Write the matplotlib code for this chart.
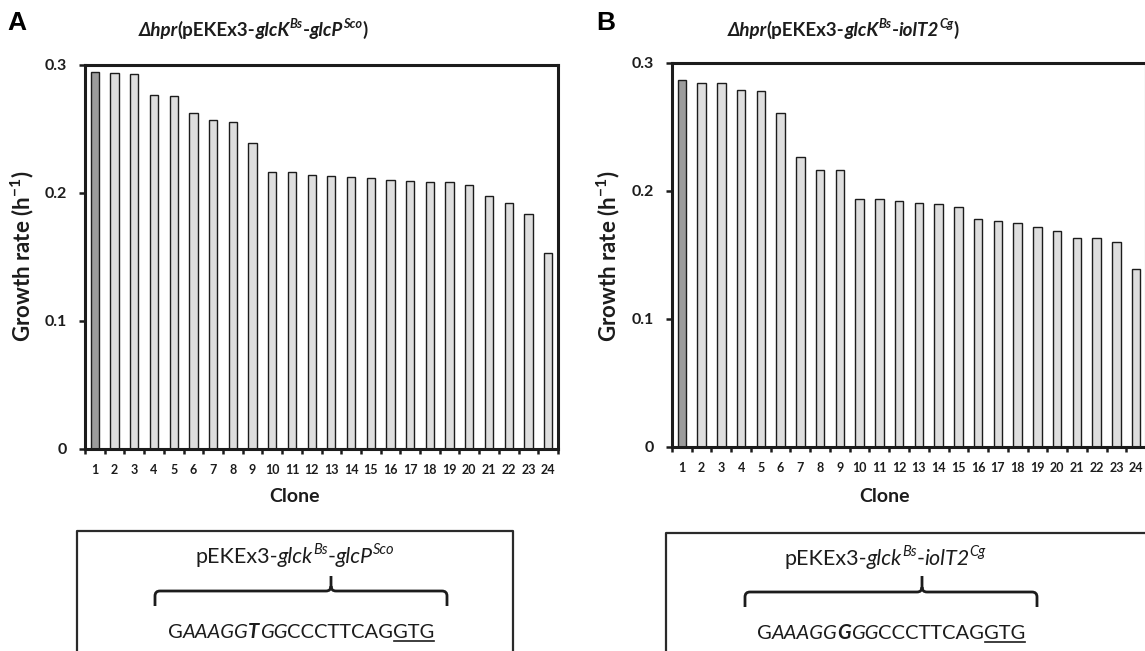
"""
Growth rate of the 24 clones for two plasmid constructs, with the RBS sequence boxes below.
"""

import matplotlib
matplotlib.use('Agg')
import matplotlib.pyplot as plt
import numpy as np
from matplotlib.lines import Line2D
from matplotlib.patches import PathPatch
from matplotlib.path import Path


# Figure size in pixels (dpi 100)
W, H = 1145, 651

# Data
clones = [str(i) for i in range(1, 25)]
rate_glcp = [0.2948, 0.2940, 0.2930, 0.2766, 0.2758, 0.2627, 0.2570, 0.2552,
             0.2388, 0.2162, 0.2162, 0.2143, 0.2133, 0.2123, 0.2115, 0.2104,
             0.2094, 0.2086, 0.2086, 0.2063, 0.1977, 0.1922, 0.1836, 0.1534]
rate_iolt2 = [0.2865, 0.2844, 0.2844, 0.2787, 0.2782, 0.2610, 0.2267, 0.2163,
              0.2163, 0.1934, 0.1934, 0.1919, 0.1906, 0.1898, 0.1877, 0.1783,
              0.1768, 0.1747, 0.1721, 0.1690, 0.1633, 0.1633, 0.1601, 0.1391]
y_ticks = [0, 0.1, 0.2, 0.3]
y_tick_labels = ['0', '0.1', '0.2', '0.3']

FONT = ['Lato', 'DejaVu Sans']
INK = '#1c1c1c'

plt.rcParams['font.family'] = FONT
plt.rcParams['mathtext.default'] = 'regular'

fig = plt.figure(figsize=(W / 100, H / 100), dpi=100)
renderer = fig.canvas.get_renderer()


def fx(px):
    return px / W


def fy(py):
    return 1 - py / H


def text_width(txt, **kw):
    # advance width: measure with a bar after it, then take the bar away
    t = fig.text(0, 0, txt + '|', **kw)
    b = fig.text(0, 0, '|', **kw)
    w = t.get_window_extent(renderer).width - b.get_window_extent(renderer).width
    t.remove()
    b.remove()
    return w


def draw_runs(x, y, runs, size, sup_scale=0.68):
    """Draw styled text pieces one after the other, centred on x, baseline at y (pixels)."""
    items = []
    total = 0
    for txt, style in runs:
        kw = dict(fontsize=size * (sup_scale if 'p' in style else 1),
                  fontweight='bold' if 'b' in style else 'normal',
                  fontstyle='italic' if 'i' in style else 'normal',
                  ha='left', va='baseline', color=INK)
        w = text_width(txt, **kw)
        items.append((txt, kw, w, style))
        total += w
    cur = x - total / 2
    for txt, kw, w, style in items:
        dy = size * 0.42 * 100 / 72 if 'p' in style else 0
        fig.text(fx(cur), fy(y - dy), txt, **kw)
        if 'u' in style:
            fig.add_artist(Line2D([fx(cur + 1), fx(cur + w)], [fy(y + 3)] * 2,
                                  color=INK, linewidth=1.2))
        cur += w


def draw_brace(left, right, peak, top, mid, bottom):
    """Curly bracket opening downwards, in pixel coordinates."""
    r = 5
    pts = [(left, bottom), (left, mid + r), (left, mid), (left + r, mid),
           (peak - r, mid), (peak, mid), (peak, mid - r), (peak, top),
           (peak, mid - r), (peak, mid), (peak + r, mid),
           (right - r, mid), (right, mid), (right, mid + r), (right, bottom)]
    codes = [Path.MOVETO, Path.LINETO, Path.CURVE3, Path.CURVE3,
             Path.LINETO, Path.CURVE3, Path.CURVE3, Path.LINETO,
             Path.MOVETO, Path.CURVE3, Path.CURVE3,
             Path.LINETO, Path.CURVE3, Path.CURVE3, Path.LINETO]
    verts = [(fx(px), fy(py)) for px, py in pts]
    fig.add_artist(PathPatch(Path(verts, codes), fill=False, edgecolor=INK,
                             linewidth=2.0, transform=fig.transFigure))


def draw_box(left, top, right):
    """Box open at the bottom (runs past the figure edge)."""
    xs = [fx(left), fx(left), fx(right), fx(right)]
    ys = [fy(H + 5), fy(top), fy(top), fy(H + 5)]
    fig.add_artist(Line2D(xs, ys, color='#2a2a2a', linewidth=1.6))


def bar_panel(rect, values):
    left, top, right, bottom = rect
    ax = fig.add_axes([fx(left), fy(bottom), fx(right) - fx(left), fy(top) - fy(bottom)])
    x = np.arange(len(values))
    colors = ['#9c9c9c'] + ['#dedede'] * (len(values) - 1)
    ax.bar(x, values, width=0.42, color=colors, edgecolor=INK, linewidth=1.0)
    ax.set_xlim(-0.5, len(values) - 0.5)
    ax.set_ylim(0, 0.3)

    for side in ['left', 'right', 'top', 'bottom']:
        ax.spines[side].set_linewidth(2.2)
        ax.spines[side].set_color(INK)

    ax.set_xticks(x)
    ax.set_xticklabels(clones, fontsize=9, fontweight='bold', color=INK)
    ax.set_xticks(np.arange(-0.5, len(values), 1), minor=True)
    ax.tick_params(axis='x', which='major', length=0, pad=11)
    ax.tick_params(axis='x', which='minor', direction='out', length=3.5, width=1.8, color=INK)

    ax.set_yticks(y_ticks)
    ax.set_yticklabels(y_tick_labels, fontsize=11.5, fontweight='bold', color=INK)
    ax.tick_params(axis='y', direction='out', length=4, width=1.8, color=INK, pad=9)
    return ax


# Panel A
bar_panel((85, 65, 558, 449), rate_glcp)
fig.text(fx(17), fy(23), 'A', fontsize=19, fontweight='bold', family='Liberation Sans',
         ha='center', va='center')
draw_runs(253, 36, [('Δhpr', 'bi'), ('(pEKEx3-', 'b'), ('glcK', 'bi'), ('Bs', 'bip'),
                    ('-', 'b'), ('glcP', 'bi'), ('Sco', 'bip'), (')', 'b')], 13.5)
fig.text(fx(22), fy(256), 'Growth rate (h$^{-1}$)', rotation=90, fontsize=16,
         fontweight='bold', ha='center', va='center', color=INK)
fig.text(fx(294), fy(497), 'Clone', fontsize=14, fontweight='bold',
         ha='center', va='center', color=INK)

# Panel B
bar_panel((672, 63, 1146, 447), rate_iolt2)
fig.text(fx(606), fy(23), 'B', fontsize=19, fontweight='bold', family='Liberation Sans',
         ha='center', va='center')
draw_runs(843, 36, [('Δhpr', 'bi'), ('(pEKEx3-', 'b'), ('glcK', 'bi'), ('Bs', 'bip'),
                    ('-', 'b'), ('iolT2', 'bi'), ('Cg', 'bip'), (')', 'b')], 13.5)
fig.text(fx(608), fy(256), 'Growth rate (h$^{-1}$)', rotation=90, fontsize=16,
         fontweight='bold', ha='center', va='center', color=INK)
fig.text(fx(884), fy(497), 'Clone', fontsize=14, fontweight='bold',
         ha='center', va='center', color=INK)

# Sequence boxes
draw_box(77, 531, 513)
draw_runs(295, 563, [('pEKEx3-', ''), ('glck', 'i'), ('Bs', 'ip'), ('-', ''),
                     ('glcP', 'i'), ('Sco', 'ip')], 15.5)
draw_brace(155, 447, 331, 576, 591, 606)
draw_runs(301, 638, [('G', ''), ('AAAGG', 'i'), ('T', 'bi'), ('GG', 'i'),
                     ('CCCTTCAG', ''), ('GTG', 'u')], 14.5)

draw_box(666, 533, 1150)
draw_runs(885, 565, [('pEKEx3-', ''), ('glck', 'i'), ('Bs', 'ip'), ('-', ''),
                     ('iolT2', 'i'), ('Cg', 'ip')], 15.5)
draw_brace(745, 1037, 922, 576, 592, 607)
draw_runs(891, 639, [('G', ''), ('AAAGG', 'i'), ('G', 'bi'), ('GG', 'i'),
                     ('CCCTTCAG', ''), ('GTG', 'u')], 14.5)

fig.savefig('out.png', dpi=100)
plt.close(fig)
